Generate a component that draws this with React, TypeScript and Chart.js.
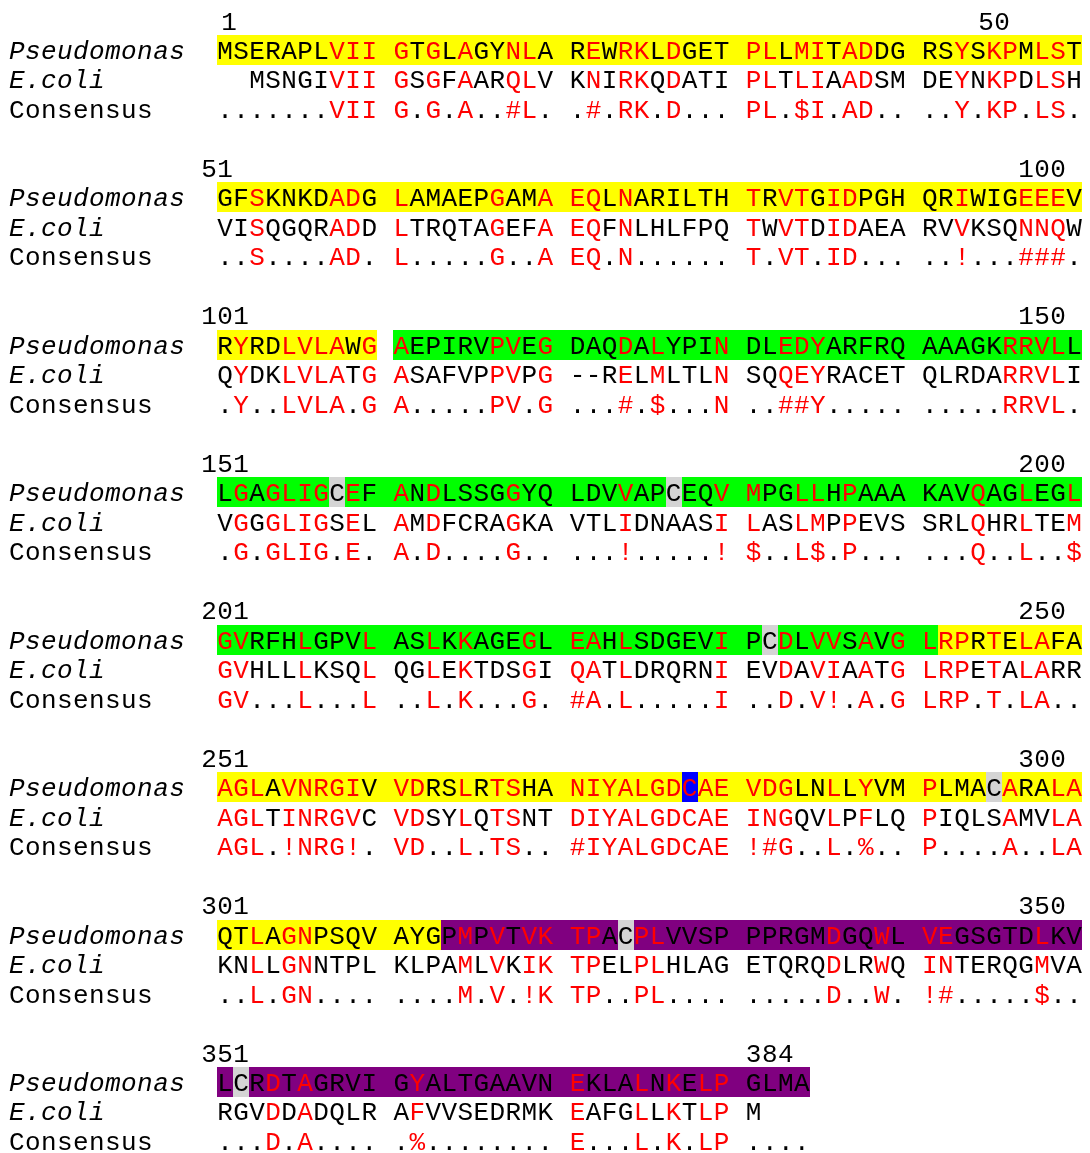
import { useEffect, useRef } from "react";
import { Chart, registerables } from "chart.js";

Chart.register(...registerables);

// ---- Alignment data -------------------------------------------------------

const blockStarts = [1, 51, 101, 151, 201, 251, 301, 351];
const blockEnds = [50, 100, 150, 200, 250, 300, 350, 384];

const rowLabels = ["Pseudomonas", "E.coli", "Consensus"];

const pseudomonasRows = [
  "MSERAPLVII GTGLAGYNLA REWRKLDGET PLLMITADDG RSYSKPMLST",
  "GFSKNKDADG LAMAEPGAMA EQLNARILTH TRVTGIDPGH QRIWIGEEEV",
  "RYRDLVLAWG AEPIRVPVEG DAQDALYPIN DLEDYARFRQ AAAGKRRVLL",
  "LGAGLIGCEF ANDLSSGGYQ LDVVAPCEQV MPGLLHPAAA KAVQAGLEGL",
  "GVRFHLGPVL ASLKKAGEGL EAHLSDGEVI PCDLVVSAVG LRPRTELAFA",
  "AGLAVNRGIV VDRSLRTSHA NIYALGDCAE VDGLNLLYVM PLMACARALA",
  "QTLAGNPSQV AYGPMPVTVK TPACPLVVSP PPRGMDGQWL VEGSGTDLKV",
  "LCRDTAGRVI GYALTGAAVN EKLALNKELP GLMA",
];

const ecoliRows = [
  "  MSNGIVII GSGFAARQLV KNIRKQDATI PLTLIAADSM DEYNKPDLSH",
  "VISQGQRADD LTRQTAGEFA EQFNLHLFPQ TWVTDIDAEA RVVKSQNNQW",
  "QYDKLVLATG ASAFVPPVPG --RELMLTLN SQQEYRACET QLRDARRVLI",
  "VGGGLIGSEL AMDFCRAGKA VTLIDNAASI LASLMPPEVS SRLQHRLTEM",
  "GVHLLLKSQL QGLEKTDSGI QATLDRQRNI EVDAVIAATG LRPETALARR",
  "AGLTINRGVC VDSYLQTSNT DIYALGDCAE INGQVLPFLQ PIQLSAMVLA",
  "KNLLGNNTPL KLPAMLVKIK TPELPLHLAG ETQRQDLRWQ INTERQGMVA",
  "RGVDDADQLR AFVVSEDRMK EAFGLLKTLP M",
];

const consensusRows = [
  ".......VII G.G.A..#L. .#.RK.D... PL.$I.AD.. ..Y.KP.LS.",
  "..S....AD. L.....G..A EQ.N...... T.VT.ID... ..!...###.",
  ".Y..LVLA.G A.....PV.G ...#.$...N ..##Y..... .....RRVL.",
  ".G.GLIG.E. A.D....G.. ...!.....! $..L$.P... ...Q..L..$",
  "GV...L...L ..L.K...G. #A.L.....I ..D.V!.A.G LRP.T.LA..",
  "AGL.!NRG!. VD..L.TS.. #IYALGDCAE !#G..L.%.. P....A..LA",
  "..L.GN.... ....M.V.!K TP..PL.... .....D..W. !#.....$..",
  "...D.A.... .%........ E...L.K.LP ....",
];

// Domain segments of the Pseudomonas sequence (residue numbers, inclusive)
const domainFirst = [1, 111, 242, 314];
const domainLast = [110, 241, 313, 384];
const domainKinds = ["N", "middle", "C1", "C2"];

// Single-residue marks on the Pseudomonas sequence
const cysteineResidues = [158, 177, 232, 295, 324, 352];
const activeSiteResidues = [278];

// ---- Styling ---------------------------------------------------------------

const FONT_FAMILY = '"Liberation Mono", "DejaVu Sans Mono", monospace';
const FONT_SIZE = 26;
const CONSERVED = "#ff0000";
const PLAIN = "#000000";
const DOMAIN_COLORS: Record<string, string> = {
  N: "#ffff00",
  middle: "#00ff00",
  C1: "#ffff00",
  C2: "#800080",
};
const CYS_COLOR = "#d4d4d4";
const ACTIVE_COLOR = "#0000ff";

// Grid geometry: x unit = one character column, y unit = one text line
const COL_PX = 16.02;
const FIRST_COL_PX = 217;
const LINE_PX = 29.486;
const FIRST_BASELINE_PX = 29.5;
const WIDTH = 1090;
const HEIGHT = 1153;
const LABEL_COL = -13;
const LINES_PER_BLOCK = 5;
const BAND_TOP = 0.814;
const BAND_BOTTOM = 0.203;

type Glyph = { x: number; y: number; ch: string; color: string; italic: boolean };

function domainOf(residue: number): string | null {
  for (let i = 0; i < domainFirst.length; i++) {
    if (residue >= domainFirst[i] && residue <= domainLast[i]) return domainKinds[i];
  }
  return null;
}

// Residues at positions with a consensus symbol are drawn red in every row
function rowGlyphs(rows: string[], offset: number): Glyph[] {
  const out: Glyph[] = [];
  rows.forEach((row, b) => {
    const cons = consensusRows[b];
    for (let c = 0; c < row.length; c++) {
      const ch = row[c];
      if (ch === " ") continue;
      const k = cons[c];
      const conserved = k !== undefined && k !== "." && k !== " ";
      out.push({
        x: c + 0.5,
        y: b * LINES_PER_BLOCK + offset,
        ch,
        color: conserved ? CONSERVED : PLAIN,
        italic: false,
      });
    }
  });
  return out;
}

function labelGlyphs(): Glyph[] {
  const out: Glyph[] = [];
  blockStarts.forEach((_, b) => {
    rowLabels.forEach((label, r) => {
      for (let i = 0; i < label.length; i++) {
        out.push({
          x: LABEL_COL + i + 0.5,
          y: b * LINES_PER_BLOCK + 1 + r,
          ch: label[i],
          color: PLAIN,
          italic: r < 2,
        });
      }
    });
  });
  return out;
}

function rulerGlyphs(): Glyph[] {
  const out: Glyph[] = [];
  blockStarts.forEach((start, b) => {
    const line = b * LINES_PER_BLOCK;
    const s = String(start);
    const startCol = s.length === 1 ? 0.25 : -1;
    for (let i = 0; i < s.length; i++) {
      out.push({ x: startCol + i + 0.5, y: line, ch: s[i], color: PLAIN, italic: false });
    }
    const e = String(blockEnds[b]);
    const lastCol = pseudomonasRows[b].length - 1;
    const rightEdge = b === 0 ? lastCol - 3.5 : lastCol;
    for (let i = 0; i < e.length; i++) {
      out.push({ x: rightEdge - e.length + i + 0.5, y: line, ch: e[i], color: PLAIN, italic: false });
    }
  });
  return out;
}

// Background bands behind the Pseudomonas row, one entry per column
type Cell = { col: number; line: number; color: string };

function bandCells(): Cell[] {
  const cells: Cell[] = [];
  pseudomonasRows.forEach((row, b) => {
    const line = b * LINES_PER_BLOCK + 1;
    const residues: (number | null)[] = [];
    let r = blockStarts[b];
    for (let c = 0; c < row.length; c++) {
      residues.push(row[c] === " " ? null : r++);
    }
    for (let c = 0; c < row.length; c++) {
      const res = residues[c];
      let kind: string | null = null;
      if (res !== null) kind = domainOf(res);
      else {
        const before = residues[c - 1];
        const after = residues[c + 1];
        if (before != null && after != null && domainOf(before) === domainOf(after)) kind = domainOf(before);
      }
      if (kind) cells.push({ col: c, line, color: DOMAIN_COLORS[kind] });
    }
    for (let c = 0; c < row.length; c++) {
      const res = residues[c];
      if (res === null) continue;
      if (cysteineResidues.includes(res)) cells.push({ col: c, line, color: CYS_COLOR });
      if (activeSiteResidues.includes(res)) cells.push({ col: c, line, color: ACTIVE_COLOR });
    }
  });
  return cells;
}

const alignmentPlugin = {
  id: "alignmentText",
  beforeDatasetsDraw(chart: any) {
    const { ctx, scales } = chart;
    const xs = scales.x;
    const ys = scales.y;
    ctx.save();
    for (const cell of bandCells()) {
      const left = Math.round(xs.getPixelForValue(cell.col));
      const right = Math.round(xs.getPixelForValue(cell.col + 1));
      const top = Math.round(ys.getPixelForValue(cell.line - BAND_TOP));
      const bottom = Math.round(ys.getPixelForValue(cell.line + BAND_BOTTOM));
      ctx.fillStyle = cell.color;
      ctx.fillRect(left, top, right - left, bottom - top);
    }
    ctx.restore();
  },
  afterDatasetsDraw(chart: any) {
    const { ctx } = chart;
    ctx.save();
    ctx.textAlign = "center";
    ctx.textBaseline = "alphabetic";
    chart.data.datasets.forEach((ds: any, di: number) => {
      const meta = chart.getDatasetMeta(di);
      meta.data.forEach((el: any, i: number) => {
        const g: Glyph = ds.data[i];
        ctx.font = `${g.italic ? "italic " : ""}${FONT_SIZE}px ${FONT_FAMILY}`;
        ctx.fillStyle = g.color;
        ctx.fillText(g.ch, el.x, el.y);
      });
    });
    ctx.restore();
  },
};

export default function App() {
  const canvasRef = useRef<HTMLCanvasElement | null>(null);

  useEffect(() => {
    document.body.style.margin = "0";
    const canvas = canvasRef.current;
    if (!canvas) return;
    const chart = new Chart(canvas, {
      type: "scatter",
      data: {
        datasets: [
          { label: "ruler", data: rulerGlyphs() as any },
          { label: "labels", data: labelGlyphs() as any },
          { label: "Pseudomonas", data: rowGlyphs(pseudomonasRows, 1) as any },
          { label: "E.coli", data: rowGlyphs(ecoliRows, 2) as any },
          { label: "Consensus", data: rowGlyphs(consensusRows, 3) as any },
        ],
      },
      options: {
        animation: false,
        responsive: false,
        devicePixelRatio: 1,
        events: [],
        layout: { padding: 0 },
        elements: { point: { radius: 0, hoverRadius: 0 } },
        plugins: { legend: { display: false }, tooltip: { enabled: false } },
        scales: {
          x: {
            type: "linear",
            display: false,
            min: (0 - FIRST_COL_PX) / COL_PX,
            max: (WIDTH - FIRST_COL_PX) / COL_PX,
          },
          y: {
            type: "linear",
            display: false,
            reverse: true,
            min: (0 - FIRST_BASELINE_PX) / LINE_PX,
            max: (HEIGHT - FIRST_BASELINE_PX) / LINE_PX,
          },
        },
      },
      plugins: [alignmentPlugin],
    });
    return () => chart.destroy();
  }, []);

  return (
    <div style={{ width: WIDTH, height: HEIGHT, background: "#ffffff" }}>
      <canvas ref={canvasRef} width={WIDTH} height={HEIGHT} style={{ display: "block" }} />
    </div>
  );
}
